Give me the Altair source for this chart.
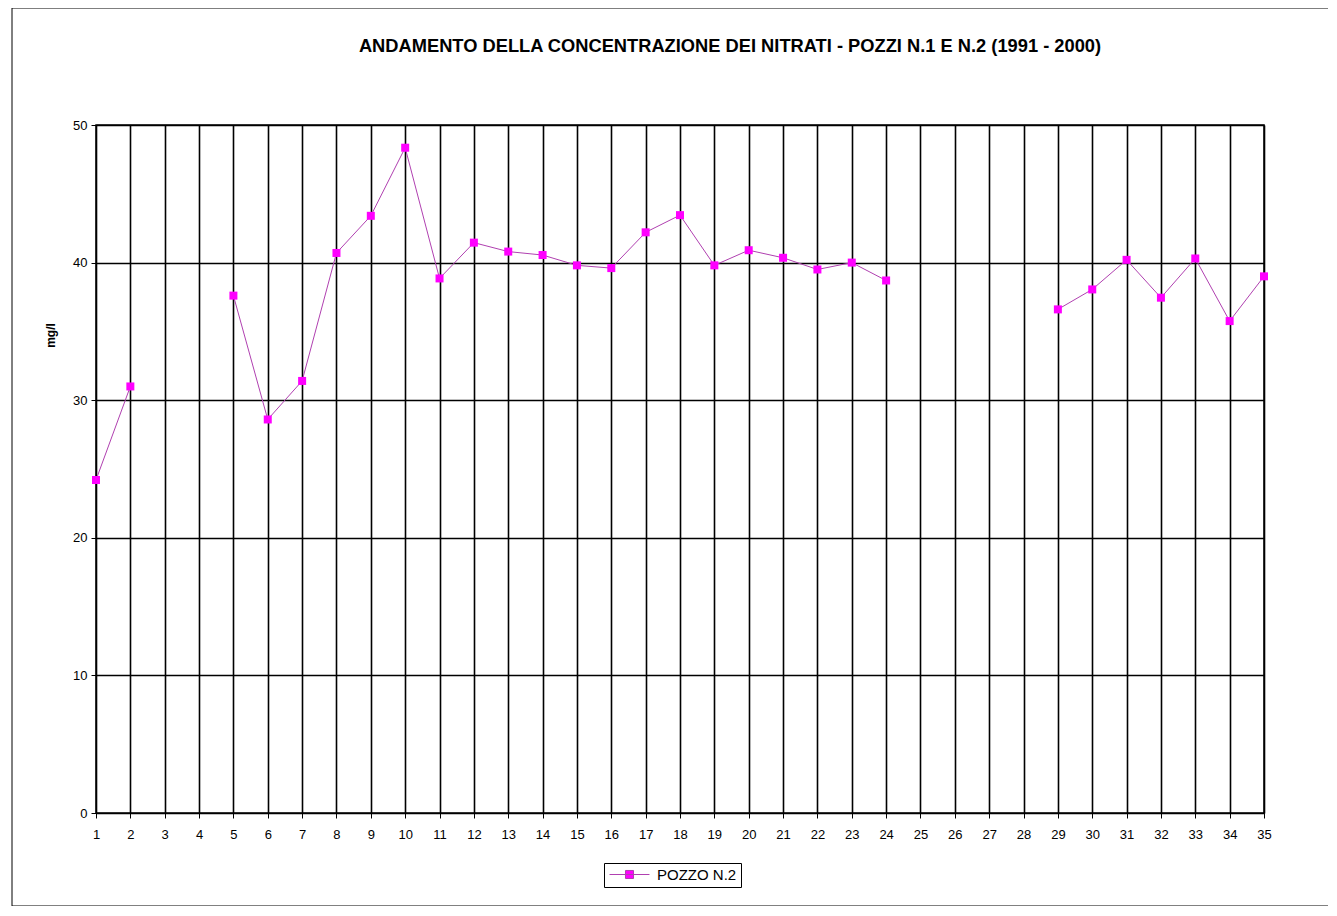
import altair as alt
import pandas as pd

# --- data ---
campioni = list(range(1, 36))
nitrati = [24.2, 31.0, None, None, 37.6, 28.6, 31.4, 40.7, 43.4, 48.35,
           38.85, 41.45, 40.8, 40.55, 39.8, 39.6, 42.2, 43.45, 39.8, 40.9,
           40.35, 39.5, 40.0, 38.7, None, None, None, None, 36.6, 38.05,
           40.2, 37.45, 40.3, 35.75, 39.0]
serie = "POZZO N.2"
y_ticks = [0, 10, 20, 30, 40, 50]
titolo = "ANDAMENTO DELLA CONCENTRAZIONE DEI NITRATI - POZZI N.1 E N.2 (1991 - 2000)"

# segment id so that the line breaks where values are missing
seg, s, prev = [], 0, True
for v in nitrati:
    if v is None:
        if prev:
            s += 1
        prev = False
    else:
        prev = True
    seg.append(s)

df = pd.DataFrame({"n": campioni, "val": nitrati, "seg": seg, "serie": serie})
df_ok = df.dropna()

W, H = 1168, 688
FONT = "Liberation Sans"

x_enc = alt.X("n:Q",
              scale=alt.Scale(domain=[1, 35], nice=False, zero=False),
              axis=alt.Axis(values=campioni, title=None, grid=True, gridColor="black",
                            gridWidth=1.6, gridOpacity=1, domainColor="black",
                            tickColor="black", tickSize=5, labelPadding=10,
                            labelFontSize=13, labelFont=FONT, labelColor="black",
                            labelOverlap=False, labelFlush=False, format="d"))
y_enc = alt.Y("val:Q",
              scale=alt.Scale(domain=[0, 50], nice=False),
              axis=alt.Axis(values=y_ticks, title="mg/l", grid=True, gridColor="black",
                            gridWidth=1.6, gridOpacity=1, domainColor="black",
                            tickColor="black", tickSize=5, labelPadding=4,
                            labelFontSize=13, labelFont=FONT, labelColor="black",
                            labelOverlap=False,
                            titleFont=FONT, titleFontSize=12, titleFontWeight="bold",
                            titleColor="black", titleX=-46, titleY=210,
                            titleAlign="center", titleBaseline="middle"))

line = alt.Chart(df_ok).mark_line(color="#B040B0", strokeWidth=1).encode(
    x=x_enc, y=y_enc, detail="seg:N")

pts = alt.Chart(df_ok).mark_point(shape="square", filled=True, size=64, opacity=1).encode(
    x=x_enc, y=y_enc,
    color=alt.Color("serie:N", scale=alt.Scale(range=["#FF00FF"]),
                    legend=alt.Legend(title=None, orient="none", legendX=508, legendY=738,
                                      strokeColor="black", fillColor="white", padding=4,
                                      labelFont=FONT, labelFontSize=15, labelColor="black",
                                      symbolType="M-3.33,0H3.33M-0.67,-0.67H0.67V0.67H-0.67Z",
                                      symbolSize=144, symbolOffset=14, labelOffset=20,
                                      symbolStrokeWidth=1,
                                      symbolStrokeColor="#B040B0",
                                      symbolFillColor="#FF00FF")))

frame = alt.Chart(pd.DataFrame({"a": [0]})).mark_rect(
    filled=False, stroke="black", strokeWidth=1).encode(
    x=alt.value(-84), x2=alt.value(1233), y=alt.value(-117), y2=alt.value(781))

title_txt = alt.Chart(pd.DataFrame({"t": [titolo]})).mark_text(
    font=FONT, fontSize=18.3, fontWeight="bold", color="black",
    align="center", baseline="middle").encode(
    text="t:N", x=alt.value(634), y=alt.value(-78))

chart = alt.layer(frame, title_txt, line, pts).properties(
    width=W, height=H,
    autosize=alt.AutoSizeParams(type="none"),
    padding={"left": 88, "top": 117, "right": 64, "bottom": 93},
).configure_view(stroke="black", strokeWidth=1.5
).configure_axis(labelOverlap=False)

chart.save("out.html", embed_options={"renderer": "svg", "actions": False})
